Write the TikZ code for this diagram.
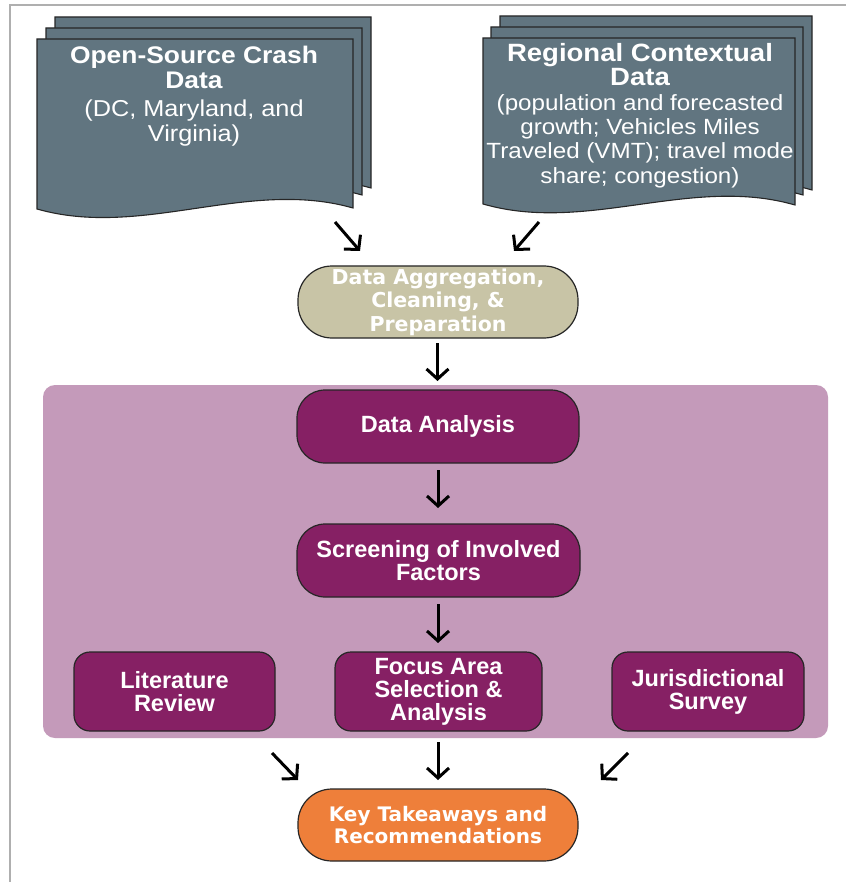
\documentclass[tikz,border=0pt]{standalone}
\usepackage{fontspec}
\setmainfont{Liberation Sans}
\newfontfamily\docfont[FakeStretch=1.1]{Liberation Sans}
\newfontfamily\heavyfont{DejaVu Sans}
\usetikzlibrary{arrows.meta}
\definecolor{slate}{RGB}{97,117,128}
\definecolor{tan}{RGB}{200,196,166}
\definecolor{lilac}{RGB}{196,154,186}
\definecolor{plum}{RGB}{134,32,100}
\definecolor{orng}{RGB}{238,127,58}
\definecolor{framegray}{RGB}{175,175,175}
\newcommand\docsheet[5]{%
  \path[sheet] (#1,#2) -- (#3,#2) -- (#3,#5)
    .. controls ({#3-(#3-#1)/3},{#5-30}) and ({#1+(#3-#1)/3},{#4+30}) .. (#1,#4) -- cycle;}
\newcommand\titlefont{\bfseries\fontsize{24}{25}\selectfont}
\newcommand\titlefontb{\bfseries\fontsize{25}{25}\selectfont}
\tikzset{
  sheet/.style={fill=slate, draw=black!85, line width=1.1pt},
  doctext/.style={text=white, align=center, inner sep=0pt, font=\docfont\fontsize{23}{25}\selectfont},
  pbox/.style={fill=plum, draw=black!85, line width=1.2pt, text=white, align=center, inner sep=0pt,
    font=\bfseries\fontsize{23.5}{23}\selectfont},
  hbox/.style={draw=black!85, line width=1.2pt, text=white, align=center, inner sep=0pt,
    minimum width=280pt, minimum height=72pt, rounded corners=34pt,
    font=\heavyfont\bfseries\fontsize{20}{22.5}\selectfont},
  arr/.style={line width=3pt, -{Straight Barb[length=10pt,width=22pt]}},
}
\begin{document}
\begin{tikzpicture}[x=1pt,y=-1pt]
\useasboundingbox (0,0) rectangle (846,882);
\fill[white] (0,0) rectangle (846,882);
% frame
\draw[framegray, line width=2pt] (10,882) -- (10,5) -- (846,5);
% left document stack
\docsheet{55}{17}{371}{186}{188}
\docsheet{46}{28}{362}{197}{195}
\docsheet{37}{39}{353}{209}{208}
\node[doctext] (crash) at (194,96.5) {{\titlefont Open-Source Crash}\\{\titlefont Data}\\[3pt](DC, Maryland, and\\Virginia)};
% right document stack
\docsheet{500}{16}{812}{182}{190}
\docsheet{491}{27}{803}{193}{195}
\docsheet{483}{38}{795}{204}{205}
\node[doctext, font=\docfont\fontsize{22}{24.3}\selectfont] (region) at (640,115.5) {{\titlefontb Regional Contextual}\\{\titlefontb Data}\\(population and forecasted\\growth; Vehicles Miles\\Traveled (VMT); travel mode\\share; congestion)};
% aggregation
\node[hbox, fill=tan, font=\heavyfont\bfseries\fontsize{20.5}{23.5}\selectfont] (agg) at (438,302) {Data Aggregation,\\Cleaning, \&\\Preparation};
% purple panel
\fill[lilac, rounded corners=12pt] (43,385) rectangle (828,738);
\node[pbox, minimum width=282pt, minimum height=73pt, rounded corners=28pt] (ana) at (438,426.5) {Data Analysis};
\node[pbox, minimum width=283pt, minimum height=73pt, rounded corners=28pt] (scr) at (438.5,560.5) {Screening of Involved\\Factors};
\node[pbox, minimum width=201pt, minimum height=79pt, rounded corners=16pt] (lit) at (174.5,691.5) {Literature\\Review};
\node[pbox, minimum width=207pt, minimum height=79pt, rounded corners=16pt] (foc) at (438.5,691.5) {Focus Area\\Selection \&\\Analysis};
\node[pbox, minimum width=192pt, minimum height=79pt, rounded corners=16pt] (jur) at (708,691.5) {Jurisdictional\\Survey};
% key takeaways
\node[hbox, fill=orng] (key) at (438,825) {Key Takeaways and\\Recommendations};
% arrow coordinates
\coordinate (a1s) at (335,222); \coordinate (a1e) at (360,251);
\coordinate (a2s) at (539,222); \coordinate (a2e) at (514,251);
\coordinate (a3s) at (437.5,343); \coordinate (a3e) at (437.5,381);
\coordinate (a4s) at (438,470); \coordinate (a4e) at (438,508);
\coordinate (a5s) at (438,604); \coordinate (a5e) at (438,643);
\coordinate (a6s) at (272,753); \coordinate (a6e) at (298,780);
\coordinate (a7s) at (438,742); \coordinate (a7e) at (438,780);
\coordinate (a8s) at (628,753); \coordinate (a8e) at (601,780);
\foreach \i in {1,...,8} { \draw[arr] (a\i s) -- (a\i e); }
\end{tikzpicture}
\end{document}
